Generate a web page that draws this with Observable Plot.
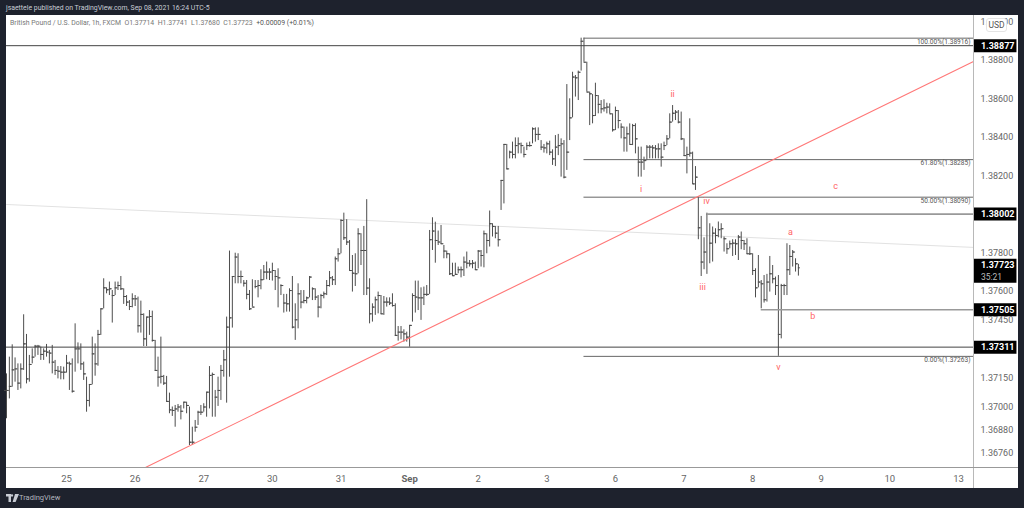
<!DOCTYPE html>
<html>
<head>
<meta charset="utf-8">
<script src="https://cdn.jsdelivr.net/npm/d3@7"></script>
<script src="https://cdn.jsdelivr.net/npm/@observablehq/plot@0.6"></script>
<style>
html,body{margin:0;padding:0;background:#1e222d;width:1024px;height:508px;overflow:hidden}
#root{position:relative;width:1024px;height:508px;font-family:Roboto,sans-serif}
#panel{position:absolute;left:6px;top:15px;width:1012px;height:473px;background:#fff}
#chart{position:absolute;left:0;top:0}
.sep{position:absolute;background:#b8b8b8}
.t{position:absolute;white-space:nowrap}
</style>
</head>
<body>
<div id="root">
  <div id="panel"></div>
  <div id="chart"></div>
  <div class="sep" style="left:973px;top:15px;width:1px;height:473px"></div>
  <div class="sep" style="left:6px;top:467px;width:1012px;height:1px;background:#999"></div>
  <div class="t" style="left:6px;top:3px;font-size:6.9px;line-height:11px;color:#c8ccd4">jsaettele published on TradingView.com, Sep 08, 2021 16:24 UTC-5</div>
  <div class="t" style="left:10px;top:18px;font-size:6.9px;line-height:11px;color:#777">British Pound / U.S. Dollar, 1h, FXCM &nbsp;O1.37714 &nbsp;H1.37741 &nbsp;L1.37680 &nbsp;C1.37723 &nbsp;<span style="color:#555">+0.00009 (+0.01%)</span></div>
  <div class="t" style="left:986px;top:18px;width:19px;height:12px;background:#fff;border:1px solid #e4e4e4;border-radius:3px;font-size:8.5px;line-height:12px;text-align:center;color:#555">USD</div>
  <svg class="t" style="left:6px;top:494px" width="13" height="8" viewBox="0 0 13 8"><path d="M0 0H5V8H2.5V2.5H0Z M6 0.2A1.2 1.2 0 1 1 6 2.6A1.2 1.2 0 1 1 6 0.2 M9 0H13L9.6 8H6.6Z" fill="#c8ccd4"/></svg>
  <div class="t" style="left:19px;top:492px;font-size:7.5px;line-height:12px;color:#b2b5be">TradingView</div>
</div>
<script>
// Hourly GBP/USD bars, one entry per bar, first bar = number -21 (bar 0 starts the 25th)
const firstBar = -21;
const highs = [1.37172,1.37259,1.37323,1.37255,1.37224,1.37224,1.37479,1.37377,1.37268,1.37302,1.37320,1.37320,1.37311,1.37302,1.37325,1.37294,1.37320,1.37242,1.37210,1.37210,1.37207,1.37268,1.37233,1.37250,1.37432,1.37333,1.37328,1.37233,1.37155,1.37117,1.37363,1.37328,1.37398,1.37510,1.37666,1.37619,1.37649,1.37605,1.37649,1.37649,1.37678,1.37614,1.37579,1.37553,1.37588,1.37579,1.37571,1.37550,1.37484,1.37467,1.37501,1.37498,1.37346,1.37259,1.37363,1.37164,1.37159,1.37072,1.37000,1.37008,1.37013,1.37008,1.37025,1.37025,1.37000,1.36895,1.36930,1.36978,1.37008,1.37017,1.37077,1.37210,1.37176,1.37086,1.37155,1.37216,1.37294,1.37467,1.37810,1.37678,1.37799,1.37796,1.37706,1.37657,1.37657,1.37605,1.37661,1.37657,1.37657,
1.37713,1.37735,1.37753,1.37718,1.37747,1.37709,1.37718,1.37635,1.37585,1.37585,1.37614,1.37678,1.37536,1.37640,1.37605,1.37605,1.37571,1.37678,1.37619,1.37614,1.37579,1.37585,1.37597,1.37657,1.37704,1.37678,1.37779,1.37822,1.37973,1.38007,1.37973,1.37865,1.37787,1.37796,1.37926,1.37900,1.37938,1.38077,1.37666,1.37536,1.37571,1.37597,1.37579,1.37574,1.37567,1.37567,1.37588,1.37536,1.37418,1.37418,1.37401,1.37389,1.37424,1.37588,1.37654,1.37654,1.37619,1.37623,1.37631,1.37917,1.37983,1.37960,1.37914,1.37943,1.37839,1.37810,1.37796,1.37747,1.37747,1.37727,1.37727,1.37779,1.37805,1.37761,1.37761,1.37753,1.37813,1.37813,1.37914,1.37900,1.38018,1.37952,1.37938,1.37938,
1.38177,1.38364,1.38364,1.38329,1.38376,1.38398,1.38398,1.38371,1.38350,1.38371,1.38376,1.38450,1.38450,1.38450,1.38384,1.38364,1.38376,1.38381,1.38336,1.38410,1.38416,1.38393,1.38384,1.38675,1.38601,1.38739,1.38722,1.38745,1.38916,1.38916,1.38791,1.38636,1.38623,1.38682,1.38618,1.38592,1.38596,1.38578,1.38575,1.38523,1.38558,1.38540,1.38471,1.38454,1.38454,1.38471,1.38468,1.38471,1.38350,1.38350,1.38298,1.38358,1.38358,1.38358,1.38358,1.38367,1.38367,1.38376,1.38410,1.38523,1.38566,1.38540,1.38540,1.38532,1.38393,1.38350,1.38497,1.38324,1.38249,
1.38090,1.37990,1.37879,1.38007,1.37952,1.37935,1.37926,1.37961,1.37952,1.37883,1.37848,1.37862,1.37869,1.37869,1.37891,1.37909,1.37865,1.37874,1.37831,1.37796,1.37718,1.37787,1.37657,1.37683,1.37689,1.37782,1.37735,1.37675,1.37683,1.37637,1.37637,1.37848,1.37839,1.37813,1.37770,1.37741];
const lows = [1.36939,1.37042,1.37103,1.37129,1.37086,1.37094,1.37190,1.37120,1.37129,1.37224,1.37259,1.37268,1.37242,1.37242,1.37259,1.37224,1.37172,1.37164,1.37146,1.37141,1.37141,1.37176,1.37086,1.37072,1.37181,1.37224,1.37190,1.37138,1.36973,1.37000,1.37115,1.37160,1.37212,1.37372,1.37510,1.37588,1.37579,1.37436,1.37579,1.37605,1.37605,1.37533,1.37522,1.37501,1.37515,1.37522,1.37384,1.37384,1.37314,1.37314,1.37372,1.37337,1.37186,1.37103,1.37120,1.37112,1.37025,1.36965,1.36951,1.36895,1.36973,1.36933,1.36990,1.36965,1.36800,1.36800,1.36869,1.36904,1.36956,1.36973,1.36947,1.36990,1.36947,1.36947,1.37003,1.37034,1.37155,1.37020,1.37155,1.37410,1.37640,1.37640,1.37640,1.37623,1.37557,1.37501,1.37519,1.37614,1.37567,
1.37609,1.37657,1.37661,1.37657,1.37654,1.37605,1.37515,1.37579,1.37488,1.37493,1.37493,1.37406,1.37346,1.37406,1.37510,1.37536,1.37536,1.37567,1.37553,1.37553,1.37463,1.37510,1.37562,1.37579,1.37623,1.37631,1.37631,1.37753,1.37796,1.37865,1.37839,1.37709,1.37597,1.37626,1.37692,1.37735,1.37579,1.37579,1.37432,1.37441,1.37476,1.37484,1.37481,1.37476,1.37519,1.37527,1.37519,1.37366,1.37342,1.37349,1.37337,1.37337,1.37311,1.37441,1.37488,1.37501,1.37450,1.37527,1.37574,1.37585,1.37813,1.37747,1.37839,1.37844,1.37770,1.37770,1.37683,1.37678,1.37683,1.37692,1.37671,1.37678,1.37718,1.37727,1.37718,1.37709,1.37718,1.37727,1.37723,1.37796,1.37831,1.37883,1.37874,1.37831,
1.38021,1.38055,1.38232,1.38289,1.38289,1.38289,1.38315,1.38315,1.38294,1.38332,1.38350,1.38367,1.38376,1.38384,1.38332,1.38319,1.38315,1.38306,1.38255,1.38249,1.38306,1.38194,1.38185,1.38229,1.38384,1.38502,1.38610,1.38592,1.38745,1.38791,1.38636,1.38462,1.38471,1.38509,1.38523,1.38523,1.38532,1.38523,1.38523,1.38428,1.38436,1.38445,1.38393,1.38324,1.38324,1.38364,1.38358,1.38315,1.38194,1.38194,1.38229,1.38280,1.38289,1.38289,1.38289,1.38289,1.38246,1.38332,1.38358,1.38393,1.38480,1.38488,1.38471,1.38384,1.38301,1.38211,1.38298,1.38156,1.38125,
1.37869,1.37678,1.37713,1.37689,1.37744,1.37753,1.37848,1.37879,1.37874,1.37805,1.37793,1.37822,1.37782,1.37787,1.37761,1.37817,1.37813,1.37793,1.37787,1.37683,1.37567,1.37619,1.37510,1.37540,1.37545,1.37597,1.37640,1.37579,1.37263,1.37354,1.37579,1.37579,1.37683,1.37727,1.37701,1.37680];
const closes = [1.37086,1.37107,1.37193,1.37198,1.37124,1.37198,1.37328,1.37146,1.37221,1.37259,1.37316,1.37316,1.37273,1.37290,1.37285,1.37280,1.37233,1.37190,1.37186,1.37181,1.37181,1.37228,1.37224,1.37082,1.37302,1.37302,1.37224,1.37172,1.37034,1.37117,1.37276,1.37224,1.37377,1.37510,1.37619,1.37609,1.37614,1.37579,1.37619,1.37631,1.37614,1.37574,1.37545,1.37522,1.37562,1.37562,1.37422,1.37481,1.37354,1.37467,1.37470,1.37346,1.37190,1.37155,1.37159,1.37124,1.37029,1.36985,1.36982,1.36990,1.37000,1.36978,1.37025,1.37008,1.36817,1.36817,1.36895,1.36973,1.36973,1.37000,1.37077,1.37164,1.37169,1.37051,1.37086,1.37190,1.37245,1.37415,1.37463,1.37678,1.37779,1.37678,1.37678,1.37643,1.37585,1.37510,1.37519,1.37626,1.37631,
1.37661,1.37701,1.37701,1.37701,1.37709,1.37678,1.37671,1.37631,1.37540,1.37536,1.37605,1.37415,1.37453,1.37588,1.37545,1.37553,1.37567,1.37675,1.37614,1.37571,1.37519,1.37579,1.37588,1.37631,1.37671,1.37661,1.37770,1.37796,1.37969,1.37879,1.37857,1.37709,1.37695,1.37692,1.37900,1.37813,1.37813,1.37618,1.37484,1.37519,1.37557,1.37579,1.37484,1.37545,1.37545,1.37540,1.37527,1.37372,1.37389,1.37389,1.37380,1.37363,1.37424,1.37579,1.37571,1.37567,1.37567,1.37585,1.37585,1.37869,1.37914,1.37865,1.37857,1.37848,1.37810,1.37796,1.37692,1.37682,1.37689,1.37713,1.37713,1.37753,1.37747,1.37744,1.37747,1.37713,1.37810,1.37787,1.37900,1.37865,1.37952,1.37938,1.37903,1.37869,
1.38177,1.38364,1.38237,1.38324,1.38312,1.38358,1.38367,1.38358,1.38312,1.38358,1.38358,1.38445,1.38416,1.38416,1.38350,1.38346,1.38367,1.38324,1.38289,1.38350,1.38358,1.38367,1.38194,1.38324,1.38502,1.38714,1.38710,1.38739,1.38900,1.38791,1.38636,1.38627,1.38514,1.38618,1.38572,1.38549,1.38554,1.38558,1.38523,1.38440,1.38540,1.38488,1.38454,1.38398,1.38419,1.38364,1.38462,1.38393,1.38272,1.38272,1.38280,1.38350,1.38350,1.38346,1.38341,1.38341,1.38298,1.38358,1.38393,1.38480,1.38526,1.38532,1.38480,1.38393,1.38306,1.38312,1.38319,1.38159,1.38194,
1.37931,1.37753,1.37805,1.38000,1.37851,1.37903,1.37891,1.37921,1.37926,1.37874,1.37822,1.37848,1.37851,1.37848,1.37883,1.37865,1.37848,1.37796,1.37796,1.37709,1.37619,1.37649,1.37640,1.37557,1.37649,1.37692,1.37666,1.37631,1.37377,1.37631,1.37631,1.37713,1.37782,1.37805,1.37744,1.37723];

// Date ticks on the time axis (bar number of each session start)
const dayBars = [0,24,48,72,96,120,144,168,192,216,240,264,288,312];
const dayLabels = ["25","26","27","30","31","Sep","2","3","6","7","8","9","10","13"];
// Price axis ticks
const priceTicks = [1.39,1.388,1.386,1.384,1.382,1.378,1.376,1.3745,1.3715,1.37,1.3688,1.3676];

// Horizontal levels
const fullLevels = [1.38877,1.37311];
const partLevels = [1.38002,1.37505];
const partStarts = [224,243];
const fibLevels = [1.38916,1.38285,1.38090,1.37263];
const fibNames = ["100.00%(1.38916)","61.80%(1.38285)","50.00%(1.38090)","0.00%(1.37263)"];
const fibStart = 181;

// Wave labels
const waveText = ["i","ii","iii","iv","v","a","b","c"];
const waveBars = [201,212,222.5,223.9,249,253.2,261,269];
const wavePrices = [1.3813,1.38623,1.37621,1.38067,1.37205,1.37906,1.3747,1.38145];

// Trend lines
const redBars = [27.6,317.25], redPrices = [1.36686,1.38795];
const greyBars = [-21,317.25], greyPrices = [1.38052,1.37829];

// Last-price tags on the price axis
const tagPrices = [1.38877,1.38002,1.37505,1.37311];
const lastPrice = 1.37723, lastCountdown = "35:21";

const xStart = -21, xEnd = 317.25, axisBars = 15.2;
const bars = highs.map((h,i)=>({
  bar:firstBar+i, high:h, low:lows[i], close:closes[i],
  open:i? closes[i-1] : closes[i]
}));
const barColor = "#4d4d4d";

const plot = Plot.plot({
  width:1024, height:508,
  marginLeft:6, marginRight:51, marginTop:15, marginBottom:41,
  style:{background:"transparent",fontFamily:"Roboto,sans-serif"},
  x:{domain:[xStart,xEnd],range:[6,973],label:null},
  y:{domain:[1.388+45/19250,1.388-407/19250],range:[15,467],label:null},
  marks:[
    Plot.line(greyBars.map((b,i)=>({b,p:greyPrices[i]})),{x:"b",y:"p",stroke:"#e2e2e2",strokeWidth:1}),
    Plot.ruleX(bars,{x:"bar",y1:"low",y2:"high",stroke:barColor,strokeWidth:1}),
    Plot.ruleY(bars,{y:"open",x1:d=>d.bar-0.7,x2:"bar",stroke:barColor,strokeWidth:1}),
    Plot.ruleY(bars,{y:"close",x1:"bar",x2:d=>d.bar+0.7,stroke:barColor,strokeWidth:1}),
    Plot.ruleY(fullLevels,{x1:xStart,x2:xEnd,stroke:"#444",strokeWidth:1}),
    Plot.ruleY(partLevels,{x1:(d,i)=>partStarts[i],x2:xEnd,stroke:"#999",strokeWidth:1.6}),
    Plot.ruleY(fibLevels,{x1:fibStart,x2:xEnd,stroke:"#666",strokeWidth:1}),
    Plot.line(redBars.map((b,i)=>({b,p:redPrices[i]})),{x:"b",y:"p",stroke:"#f77",strokeWidth:1.1}),
    Plot.text(fibLevels,{x:xEnd,y:d=>d,text:(d,i)=>fibNames[i],textAnchor:"end",dx:-3,dy:3.5,fontSize:6.6,fill:"#555"}),
    Plot.text(waveText,{x:(d,i)=>waveBars[i],y:(d,i)=>wavePrices[i],text:d=>d,fill:"#f66",fontSize:9}),
    Plot.ruleY(tagPrices,{x1:xEnd+0.1,x2:xEnd+axisBars,stroke:"#000",strokeWidth:13}),
    Plot.ruleY([lastPrice],{x1:xEnd+0.1,x2:xEnd+axisBars,stroke:"#000",strokeWidth:24,dy:3}),
    Plot.axisY({anchor:"right",ticks:priceTicks,tickSize:0,tickPadding:7,tickFormat:d=>d.toFixed(5),fontSize:9,fill:"#666",label:null}),
    Plot.axisX({anchor:"bottom",ticks:dayBars,tickSize:0,tickPadding:8,tickFormat:d=>dayLabels[dayBars.indexOf(d)],fontSize:9.5,fill:"#666",label:null}),
    Plot.text(tagPrices,{x:xEnd+2.6,y:d=>d,text:d=>d.toFixed(5),textAnchor:"start",fill:"#fff",fontSize:9,fontWeight:"bold"}),
    Plot.text([lastPrice],{x:xEnd+2.6,y:d=>d,text:d=>d.toFixed(5),textAnchor:"start",fill:"#fff",fontSize:9,fontWeight:"bold",dy:-3}),
    Plot.text([lastCountdown],{x:xEnd+2.6,y:()=>lastPrice,text:d=>d,textAnchor:"start",fill:"#bbb",fontSize:8.5,dy:9})
  ]
});
document.getElementById("chart").appendChild(plot);
d3.select(plot).selectAll("text").filter(function(){return this.textContent==="Sep"}).attr("font-weight","bold");
</script>
</body>
</html>
